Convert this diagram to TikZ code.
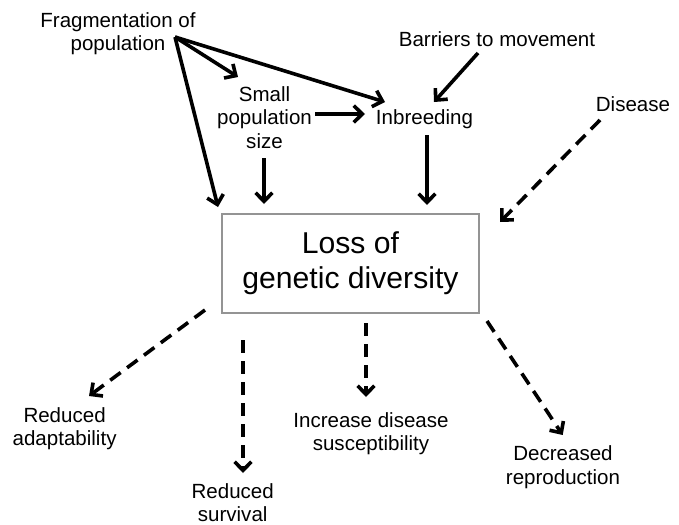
\documentclass[tikz,border=0pt]{standalone}
\usepackage{fontspec}
\setmainfont{Liberation Sans}
\usetikzlibrary{arrows.meta}
\begin{document}
\begin{tikzpicture}[x=0.75pt,y=-0.75pt,
  lbl/.style={inner sep=0pt, align=center, font=\fontsize{15.4pt}{17.6pt}\selectfont},
  mainbox/.style={draw=black!42, line width=1.1pt, minimum width=192.75pt, minimum height=74.25pt,
    inner sep=0pt, align=center, font=\fontsize{22.6pt}{26.5pt}\selectfont},
  arr/.style={line width=2.7pt, -{Straight Barb[length=6.5pt,width=12.5pt]}},
  darr/.style={arr, dash pattern=on 9.75pt off 6pt}
]
\useasboundingbox (0,0) rectangle (679,525);

% nodes
\node[lbl] (frag) at (118,33.7) {Fragmentation of\\population};
\node[lbl] (small) at (264.5,117.5) {Small\\population\\size};
\node[lbl] (inbr) at (424.5,119) {Inbreeding};
\node[lbl] (barr) at (497,39) {Barriers to movement};
\node[lbl] (dis) at (633,104) {Disease};
\node[mainbox] (box) at (350.5,263.5) {Loss of\\genetic diversity};
\node[lbl] (adapt) at (64.6,428.7) {Reduced\\adaptability};
\node[lbl] (surv) at (232.7,502.5) {Reduced\\survival};
\node[lbl] (susc) at (371,433.7) {Increase disease\\susceptibility};
\node[lbl] (repro) at (563,467) {Decreased\\reproduction};

% connector end points
\coordinate (fragout) at (175,37);
\coordinate (boxinA) at (218,207);
\coordinate (smallin) at (238,77);
\coordinate (inbrinA) at (385,102);
\coordinate (smallout) at (315,114);
\coordinate (inbrinB) at (365,114);
\coordinate (smalldown) at (264,158);
\coordinate (boxinB) at (264,204);
\coordinate (barrout) at (478,53);
\coordinate (inbrinC) at (434,102);
\coordinate (inbrdown) at (427,135);
\coordinate (boxinC) at (427,205);
\coordinate (disout) at (600,120);
\coordinate (boxinD) at (500,222);
\coordinate (boxoutA) at (205,310);
\coordinate (adaptin) at (89,396);
\coordinate (boxoutB) at (243,340);
\coordinate (survin) at (243,473);
\coordinate (boxoutC) at (366,323);
\coordinate (suscin) at (366,397);
\coordinate (boxoutD) at (487,321);
\coordinate (reproin) at (562.7,435);

% solid connectors
\draw[arr] (fragout) -- (boxinA);
\draw[arr] (fragout) -- (smallin);
\draw[arr] (fragout) -- (inbrinA);
\draw[arr] (smallout) -- (inbrinB);
\draw[arr] (smalldown) -- (boxinB);
\draw[arr] (barrout) -- (inbrinC);
\draw[arr] (inbrdown) -- (boxinC);

% dashed connectors
\draw[darr] (disout) -- (boxinD);
\draw[darr] (boxoutA) -- (adaptin);
\draw[darr] (boxoutB) -- (survin);
\draw[darr] (boxoutC) -- (suscin);
\draw[darr] (boxoutD) -- (reproin);
\end{tikzpicture}
\end{document}
